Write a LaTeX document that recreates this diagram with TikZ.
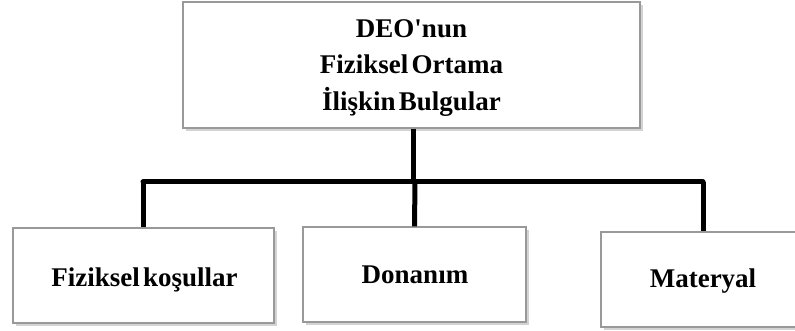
\documentclass[tikz,border=0pt]{standalone}
\usepackage{fontspec}
\setmainfont{Liberation Serif}[WordSpace=0.5]
\usetikzlibrary{shadows}
\begin{document}
\begin{tikzpicture}[x=1pt,y=-1pt,
  box/.style={draw=black!40, line width=1.1pt, fill=white, inner sep=0pt,
    drop shadow={opacity=0.35, shadow xshift=2.5pt, shadow yshift=-3pt}},
  txt/.style={inner sep=0pt, align=center,
    font=\bfseries\fontsize{27}{36.5}\selectfont},
  link/.style={line width=5pt, line join=round, line cap=round}]
\useasboundingbox (0,0) rectangle (795,331);

% boxes
\node[box, minimum width=457pt, minimum height=126pt] (top) at (411.5,65) {};
\node[box, minimum width=261pt, minimum height=95pt] (fiz) at (143.5,275.5) {};
\node[box, minimum width=223pt, minimum height=95pt] (don) at (414.5,274.5) {};
\node[box, minimum width=204pt, minimum height=95pt] (mat) at (703,279.5) {};

% labels (base anchor of a multi-line node sits on its last line)
\node[txt, anchor=base] (topText) at (411.5,110.3)
  {DEO\textquotesingle nun\\Fiziksel Ortama\\İlişkin Bulgular};
\node[txt, anchor=base] (fizText) at (144.5,286.7) {Fiziksel koşullar};
\node[txt, anchor=base] (donText) at (415,283) {Donanım};
\node[txt, anchor=base] (matText) at (703,287.7) {Materyal};

% connector tree
\coordinate (hub) at (413,182);
\coordinate (lft) at (143,182);
\coordinate (rgt) at (703,182);

\draw[link, line cap=butt] (hub |- top.south) -- (hub);
\draw[link] (lft) -- (rgt);
\draw[link, line cap=butt] (lft) -- (lft |- fiz.north);
\draw[link, line cap=butt] (415,182) -- (don.north);
\draw[link, line cap=butt] (rgt) -- (mat.north);
\end{tikzpicture}
\end{document}
